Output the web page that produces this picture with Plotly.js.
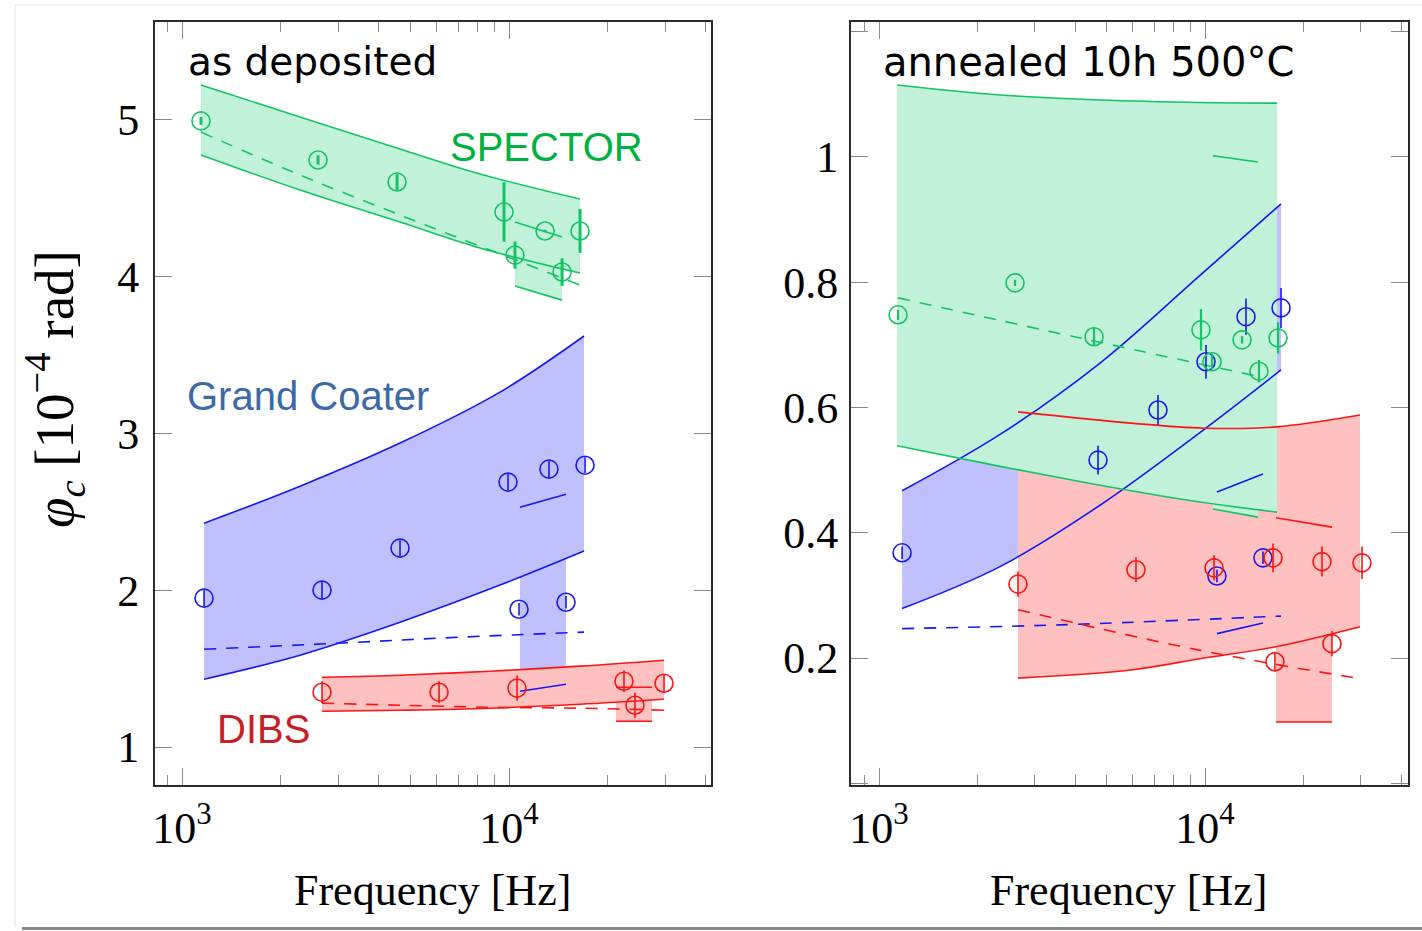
<!DOCTYPE html>
<html>
<head>
<meta charset="utf-8">
<script src="https://cdn.plot.ly/plotly-3.0.1.min.js"></script>
<style>html,body{margin:0;padding:0;background:#fff;}#plot{width:1422px;height:931px;}</style>
</head>
<body>
<div id="plot"></div>
<script>
// ---------- DATA ----------
// Left panel: as deposited
const gL_f = [1143, 2296, 4642, 8154, 16490];
const gL_up = [5.223, 5.019, 4.815, 4.655, 4.496];
const gL_lo = [4.777, 4.553, 4.349, 4.183, 4.024];
const gL_dash_f = [1143, 2216, 4808, 9587, 16490];
const gL_dash = [4.923, 4.662, 4.381, 4.138, 3.947];
const gL_sub_f = [10430, 14530];
const gL_sub_up = [4.349, 4.253];
const gL_sub_lo = [3.941, 3.851];
const gL_pts_f = [1143, 2606, 4546, 9654, 10430, 12890, 14530, 16490];
const gL_pts = [4.994, 4.745, 4.604, 4.413, 4.138, 4.292, 4.030, 4.292];
const gL_err = [0.025, 0.03, 0.05, 0.19, 0.087, 0.008, 0.088, 0.14];

const bL_f = [1168, 2296, 4642, 9386, 16960];
const bL_up = [2.428, 2.664, 2.939, 3.264, 3.622];
const bL_lo = [1.433, 1.586, 1.796, 2.033, 2.250];
const bL_dash_f = [1168, 2979, 7084, 16960];
const bL_dash = [1.624, 1.662, 1.701, 1.733];
const bL_sub_f = [10800, 14940];
const bL_sub_up = [2.530, 2.613];
const bL_sub_lo = [1.356, 1.401];
const bL_pts_f = [1168, 2680, 4642, 9931, 13250, 17080, 10730, 14940];
const bL_pts = [1.950, 2.001, 2.269, 2.690, 2.773, 2.798, 1.879, 1.924];
const bL_err = [0.05, 0.05, 0.05, 0.05, 0.05, 0.05, 0.04, 0.04];

const rL_f = [2680, 4642, 8748, 16490, 29790];
const rL_up = [1.445, 1.458, 1.484, 1.516, 1.554];
const rL_lo = [1.228, 1.235, 1.248, 1.273, 1.305];
const rL_dash = [1.280, 1.267, 1.254, 1.248, 1.235];
const rL_sub_f = [21240, 27360];
const rL_sub_up = [1.382, 1.382];
const rL_sub_lo = [1.165, 1.165];
const rL_pts_f = [2680, 6110, 10580, 22470, 24280, 29790];
const rL_pts = [1.350, 1.350, 1.376, 1.420, 1.267, 1.407];
const rL_err = [0.07, 0.07, 0.08, 0.07, 0.08, 0.06];

// Right panel: annealed 10h 500°C
const gR_f = [1136, 2351, 4764, 9654, 16630];
const gR_up = [1.115, 1.099, 1.091, 1.087, 1.086];
const gR_lo = [0.539, 0.506, 0.476, 0.449, 0.433];
const gR_dash_f = [1144, 4137, 14750];
const gR_dash = [0.775, 0.711, 0.649];
const gR_sub_f = [10580, 14540];
const gR_sub_up = [1.002, 0.992];
const gR_sub_lo = [0.438, 0.425];
const gR_pts_f = [1144, 2614, 4567, 9721, 10510, 12990, 14640, 16750];
const gR_pts = [0.748, 0.799, 0.713, 0.724, 0.673, 0.708, 0.658, 0.711];
const gR_err = [0.008, 0.005, 0.015, 0.033, 0.012, 0.006, 0.018, 0.025];

const bR_f = [1177, 2351, 4764, 9654, 17110];
const bR_up = [0.467, 0.557, 0.671, 0.811, 0.925];
const bR_lo = [0.279, 0.346, 0.444, 0.560, 0.660];
const bR_dash_f = [1177, 3591, 17110];
const bR_dash = [0.247, 0.253, 0.267];
const bR_sub_f = [10880, 15060];
const bR_sub_up = [0.465, 0.494];
const bR_sub_lo = [0.239, 0.256];
const bR_pts_f = [1177, 4697, 7174, 10070, 13360, 17110, 10880, 15060];
const bR_pts = [0.368, 0.516, 0.596, 0.673, 0.745, 0.759, 0.331, 0.360];
const bR_err = [0.01, 0.023, 0.024, 0.027, 0.029, 0.032, 0.01, 0.01];

const rR_f = [2669, 5929, 9929, 16510, 29890];
const rR_up = [0.593, 0.575, 0.567, 0.569, 0.588];
const rR_lo = [0.168, 0.181, 0.200, 0.218, 0.250];
const rR_dash_f = [2669, 9517, 29890];
const rR_dash = [0.277, 0.213, 0.167];
const rR_sub_f = [16510, 24520];
const rR_sub_up = [0.424, 0.409];
const rR_sub_lo = [0.098, 0.098];
const rR_pts_f = [2669, 6141, 10660, 16170, 22850, 30310, 16390, 24520];
const rR_pts = [0.318, 0.341, 0.344, 0.360, 0.354, 0.352, 0.194, 0.223];
const rR_err = [0.02, 0.02, 0.02, 0.023, 0.024, 0.026, 0.016, 0.02];

// Tick labels
const xTickVals = [1000, 10000];
const xTickText = ['10<sup>3</sup>', '10<sup>4</sup>'];
const xMinorVals = [900, 2000, 3000, 4000, 5000, 6000, 7000, 8000, 9000, 20000, 30000, 40000];
const yL_tickVals = [1, 2, 3, 4, 5];
const yL_tickText = ['1', '2', '3', '4', '5'];
const yR_tickVals = [0, 0.2, 0.4, 0.6, 0.8, 1, 1.2];
const yR_tickText = ['', '0.2', '0.4', '0.6', '0.8', '1', ''];

// ---------- STYLE ----------
const C = {
  g: {line: '#12c463', fill: '#c1f1d8'},
  b: {line: '#1717f5', fill: '#c0c0fe'},
  r: {line: '#ff1414', fill: '#ffc0c0'}
};
const LW = 1.6;
const SM = 1.0;

function bandFill(xa, ya, f, up, lo, color) {
  return [
    {type: 'scatter', mode: 'lines', x: f, y: lo, xaxis: xa, yaxis: ya,
     line: {width: 0, shape: 'spline', smoothing: SM}, hoverinfo: 'skip', showlegend: false},
    {type: 'scatter', mode: 'lines', x: f, y: up, xaxis: xa, yaxis: ya, fill: 'tonexty',
     fillcolor: color, line: {width: 0, shape: 'spline', smoothing: SM}, hoverinfo: 'skip', showlegend: false}
  ];
}
function ln(xa, ya, f, v, color, dash) {
  return {type: 'scatter', mode: 'lines', x: f, y: v, xaxis: xa, yaxis: ya,
    line: {color: color, width: LW, shape: 'spline', smoothing: SM, dash: dash ? '12px,10px' : 'solid'},
    hoverinfo: 'skip', showlegend: false};
}
function pts(xa, ya, f, v, err, color, th) {
  return {type: 'scatter', mode: 'markers', x: f, y: v, xaxis: xa, yaxis: ya,
    marker: {symbol: 'circle-open', size: 18, color: color, line: {width: 1.6, color: color}},
    error_y: {type: 'data', array: err, visible: true, width: 0, thickness: th, color: color},
    hoverinfo: 'skip', showlegend: false};
}

const traces = [].concat(
  bandFill('x', 'y', bL_f, bL_up, bL_lo, C.b.fill),
  bandFill('x', 'y', bL_sub_f, bL_sub_up, bL_sub_lo, C.b.fill),
  bandFill('x', 'y', rL_f, rL_up, rL_lo, C.r.fill),
  bandFill('x', 'y', rL_sub_f, rL_sub_up, rL_sub_lo, C.r.fill),
  bandFill('x', 'y', gL_f, gL_up, gL_lo, C.g.fill),
  bandFill('x', 'y', gL_sub_f, gL_sub_up, gL_sub_lo, C.g.fill),
  bandFill('x2', 'y2', bR_f, bR_up, bR_lo, C.b.fill),
  bandFill('x2', 'y2', bR_sub_f, bR_sub_up, bR_sub_lo, C.b.fill),
  bandFill('x2', 'y2', rR_f, rR_up, rR_lo, C.r.fill),
  bandFill('x2', 'y2', rR_sub_f, rR_sub_up, rR_sub_lo, C.r.fill),
  bandFill('x2', 'y2', gR_f, gR_up, gR_lo, C.g.fill),
  bandFill('x2', 'y2', gR_sub_f, gR_sub_up, gR_sub_lo, C.g.fill),
  [ln('x', 'y', bL_f, bL_up, C.b.line), ln('x', 'y', bL_f, bL_lo, C.b.line),
   ln('x', 'y', bL_dash_f, bL_dash, C.b.line, true),
   ln('x', 'y', bL_sub_f, bL_sub_up, C.b.line), ln('x', 'y', bL_sub_f, bL_sub_lo, C.b.line),
   ln('x', 'y', rL_f, rL_up, C.r.line), ln('x', 'y', rL_f, rL_lo, C.r.line),
   ln('x', 'y', rL_f, rL_dash, C.r.line, true),
   ln('x', 'y', rL_sub_f, rL_sub_up, C.r.line), ln('x', 'y', rL_sub_f, rL_sub_lo, C.r.line),
   ln('x', 'y', gL_f, gL_up, C.g.line), ln('x', 'y', gL_f, gL_lo, C.g.line),
   ln('x', 'y', gL_dash_f, gL_dash, C.g.line, true),
   ln('x', 'y', gL_sub_f, gL_sub_up, C.g.line), ln('x', 'y', gL_sub_f, gL_sub_lo, C.g.line),
   pts('x', 'y', bL_pts_f, bL_pts, bL_err, C.b.line, 1.6),
   pts('x', 'y', rL_pts_f, rL_pts, rL_err, C.r.line, 1.6),
   pts('x', 'y', gL_pts_f, gL_pts, gL_err, C.g.line, 3),
   ln('x2', 'y2', bR_f, bR_up, C.b.line), ln('x2', 'y2', bR_f, bR_lo, C.b.line),
   ln('x2', 'y2', bR_dash_f, bR_dash, C.b.line, true),
   ln('x2', 'y2', bR_sub_f, bR_sub_up, C.b.line), ln('x2', 'y2', bR_sub_f, bR_sub_lo, C.b.line),
   ln('x2', 'y2', rR_f, rR_up, C.r.line), ln('x2', 'y2', rR_f, rR_lo, C.r.line),
   ln('x2', 'y2', rR_dash_f, rR_dash, C.r.line, true),
   ln('x2', 'y2', rR_sub_f, rR_sub_up, C.r.line), ln('x2', 'y2', rR_sub_f, rR_sub_lo, C.r.line),
   ln('x2', 'y2', gR_f, gR_up, C.g.line), ln('x2', 'y2', gR_f, gR_lo, C.g.line),
   ln('x2', 'y2', gR_dash_f, gR_dash, C.g.line, true),
   ln('x2', 'y2', gR_sub_f, gR_sub_up, C.g.line), ln('x2', 'y2', gR_sub_f, gR_sub_lo, C.g.line),
   pts('x2', 'y2', bR_pts_f, bR_pts, bR_err, C.b.line, 1.6),
   pts('x2', 'y2', rR_pts_f, rR_pts, rR_err, C.r.line, 1.6),
   pts('x2', 'y2', gR_pts_f, gR_pts, gR_err, C.g.line, 2.2)]
);

const W = 1422, H = 931;
const serif = 'Liberation Serif, Times New Roman, serif';
const tickFont = {family: serif, size: 44, color: '#000'};
function xAx(dom, rng, anchor) {
  return {type: 'log', domain: dom, range: rng, anchor: anchor,
    tickmode: 'array', tickvals: xTickVals, ticktext: xTickText,
    ticks: 'inside', ticklen: 17, tickwidth: 1, tickcolor: '#8a8a8a',
    minor: {tickmode: 'array', tickvals: xMinorVals, ticks: 'inside', ticklen: 10, tickwidth: 1, tickcolor: '#8a8a8a', showgrid: false},
    mirror: 'allticks', showline: true, linecolor: '#2a2a2a', linewidth: 2,
    showgrid: false, zeroline: false, tickfont: tickFont, ticklabelstandoff: 3, fixedrange: true};
}
function yAx(dom, rng, anchor, tv, tt, so) {
  return {domain: dom, range: rng, anchor: anchor,
    tickmode: 'array', tickvals: tv, ticktext: tt,
    ticks: 'inside', ticklen: 17, tickwidth: 1, tickcolor: '#8a8a8a',
    mirror: 'allticks', showline: true, linecolor: '#2a2a2a', linewidth: 2,
    showgrid: false, zeroline: false, tickfont: tickFont, ticklabelstandoff: so, fixedrange: true};
}
const yDom = [1 - 785 / H, 1 - 22 / H];
const sans = 'DejaVu Sans, sans-serif';
const arial = 'Liberation Sans, Arial, sans-serif';

const layout = {
  width: W, height: H,
  margin: {l: 0, r: 0, t: 0, b: 0},
  paper_bgcolor: '#fff', plot_bgcolor: '#fff',
  showlegend: false,
  xaxis: xAx([155 / W, 711 / W], [2.9174, 4.6177], 'y'),
  yaxis: yAx(yDom, [0.758, 5.625], 'x', yL_tickVals, yL_tickText, 5),
  xaxis2: xAx([851 / W, 1408 / W], [2.9141, 4.6227], 'y2'),
  yaxis2: yAx(yDom, [-0.0027, 1.2155], 'x2', yR_tickVals, yR_tickText, 2),
  annotations: [
    {xref: 'paper', yref: 'paper', x: 186 / W, y: 1 - 62 / H, xanchor: 'left', yanchor: 'middle',
     text: 'as deposited', showarrow: false, font: {family: sans, size: 39, color: '#000'}},
    {xref: 'paper', yref: 'paper', x: 881 / W, y: 1 - 62 / H, xanchor: 'left', yanchor: 'middle',
     text: 'annealed 10h 500°C', showarrow: false, font: {family: sans, size: 40, color: '#000'}},
    {xref: 'paper', yref: 'paper', x: 546 / W, y: 1 - 147 / H, xanchor: 'center', yanchor: 'middle',
     text: 'SPECTOR', showarrow: false, font: {family: arial, size: 40, color: '#00b140'}},
    {xref: 'paper', yref: 'paper', x: 308 / W, y: 1 - 396 / H, xanchor: 'center', yanchor: 'middle',
     text: 'Grand Coater', showarrow: false, font: {family: arial, size: 40, color: '#3a6aa8'}},
    {xref: 'paper', yref: 'paper', x: 263 / W, y: 1 - 729 / H, xanchor: 'center', yanchor: 'middle',
     text: 'DIBS', showarrow: false, font: {family: arial, size: 40, color: '#c81e24'}},
    {xref: 'paper', yref: 'paper', x: 432 / W, y: 1 - 890 / H, xanchor: 'center', yanchor: 'middle',
     text: 'Frequency [Hz]', showarrow: false, font: {family: serif, size: 44, color: '#000'}},
    {xref: 'paper', yref: 'paper', x: 1128 / W, y: 1 - 890 / H, xanchor: 'center', yanchor: 'middle',
     text: 'Frequency [Hz]', showarrow: false, font: {family: serif, size: 44, color: '#000'}},
    {xref: 'paper', yref: 'paper', x: 54 / W, y: 1 - 389 / H, xanchor: 'center', yanchor: 'middle',
     textangle: -90, text: '<i>φ</i><sub><i>c</i></sub> [10<sup>−4</sup> rad]', showarrow: false,
     font: {family: serif, size: 55, color: '#000'}}
  ],
  shapes: [
    {type: 'line', xref: 'paper', yref: 'paper', x0: 15 / W, x1: 15 / W, y0: 1 - 5 / H, y1: 1 - 927 / H,
     line: {color: '#e4e4e4', width: 1}},
    {type: 'line', xref: 'paper', yref: 'paper', x0: 15 / W, x1: 1, y0: 1 - 5 / H, y1: 1 - 5 / H,
     line: {color: '#e4e4e4', width: 1}},
    {type: 'line', xref: 'paper', yref: 'paper', x0: 22 / W, x1: 1, y0: 1 - 928.5 / H, y1: 1 - 928.5 / H,
     line: {color: '#8a8a8a', width: 3}}
  ]
};

Plotly.newPlot('plot', traces, layout, {staticPlot: true, displayModeBar: false});
</script>
</body>
</html>
